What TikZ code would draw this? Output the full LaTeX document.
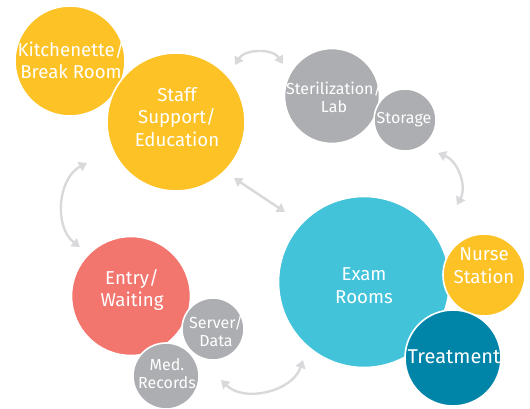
\documentclass[tikz,border=0pt]{standalone}
\usepackage{fontspec}
\setmainfont{Fira Sans}
\usetikzlibrary{arrows.meta}

\definecolor{roomyellow}{RGB}{253,194,38}
\definecolor{roomgray}{RGB}{173,174,177}
\definecolor{roomcoral}{RGB}{242,117,110}
\definecolor{roomcyan}{RGB}{66,195,218}
\definecolor{roomteal}{RGB}{0,132,168}
\definecolor{flowgray}{RGB}{217,217,219}

\tikzset{
  room/.style={circle,draw=white,line width=1.2pt,inner sep=0pt,minimum size=0.75*#1},
  bigtxt/.style={text=white,align=center,font=\fontsize{14}{17}\selectfont},
  smalltxt/.style={text=white,align=center,font=\fontsize{12}{13.5}\selectfont},
  flow/.style={draw=flowgray,line width=1.8pt,{Triangle[length=6pt,width=7.5pt]}-{Triangle[length=6pt,width=7.5pt]}}
}

\begin{document}
\begin{tikzpicture}[x=0.75pt,y=0.75pt,yscale=-1,xscale=1]
\useasboundingbox (0,0) rectangle (530,409);

%Shape: Circle [kitchenette]
\node [room=110,fill=roomyellow] (kitchen) at (70,61) {};
\node [bigtxt] at (71,60) {Kitchenette/\\Break Room};
%Shape: Circle [staff]
\node [room=138,fill=roomyellow] (staff) at (176,122) {};
\node [bigtxt] at (177,117) {Staff\\Support/\\Education};

%Shape: Circle [sterilization]
\node [room=95,fill=roomgray] (steril) at (332,96) {};
\node [smalltxt] at (334,97) {Sterilization/\\Lab};
%Shape: Circle [storage]
\node [room=62,fill=roomgray] (storage) at (405,120) {};
\node [smalltxt] at (404,120) {Storage};

%Shape: Circle [entry]
\node [room=119,fill=roomcoral] (entry) at (131,296) {};
\node [bigtxt] at (132,290) {Entry/\\Waiting};
%Shape: Circle [server]
\node [room=62,fill=roomgray] (server) at (213,329) {};
\node [smalltxt] at (216,331) {Server/\\Data};
%Shape: Circle [records]
\node [room=66,fill=roomgray] (records) at (166,376) {};
\node [smalltxt] at (167,374) {Med.\\Records};

%Shape: Circle [exam]
\node [room=171,fill=roomcyan] (exam) at (364,282) {};
\node [bigtxt] at (364,286) {Exam\\Rooms};
%Shape: Circle [nurse]
\node [room=82,fill=roomyellow] (nurse) at (484,275) {};
\node [bigtxt] at (484,266) {Nurse\\Station};
%Shape: Circle [treatment]
\node [room=96,fill=roomteal] (treat) at (453,358) {};
\node [bigtxt,font=\fontsize{15}{17}\selectfont] at (454,357) {Treatment};

% Arrow ends
\coordinate (a1) at (235,65);  \coordinate (b1) at (283,64);
\coordinate (a2) at (438,153); \coordinate (b2) at (457,205);
\coordinate (a3) at (234,178); \coordinate (b3) at (285,212);
\coordinate (a4) at (87,163);  \coordinate (b4) at (80,247);
\coordinate (a5) at (221,380); \coordinate (b5) at (303,360);

%Curved Lines
\draw [flow] (a1) to [bend right=58] (b1);
\draw [flow] (a2) to [bend right=48] (b2);
\draw [flow] (a3) -- (b3);
\draw [flow] (a4) to [bend left=58] (b4);
\draw [flow] (a5) to [bend left=58] (b5);

\end{tikzpicture}
\end{document}
